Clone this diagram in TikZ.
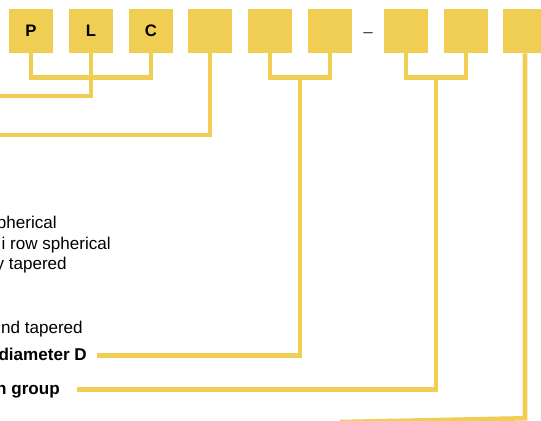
\documentclass[tikz,border=0pt]{standalone}
\usepackage{fontspec}
\setmainfont{Liberation Sans}
\usetikzlibrary{calc}
\definecolor{codeyellow}{HTML}{F0CD53}
\begin{document}
\begin{tikzpicture}[x=0.75pt,y=-0.75pt,
codebox/.style={rectangle,fill=codeyellow,minimum size=33pt,inner sep=0pt,font=\fontsize{12.5}{14}\selectfont\bfseries},
legend/.style={inner sep=0pt,text height=9pt,text depth=2.6pt,font=\fontsize{12.8}{15}\selectfont},
boldlegend/.style={legend,font=\fontsize{12.8}{15}\selectfont\bfseries},
wire/.style={draw=codeyellow,line width=3.4pt,line join=miter}]
\useasboundingbox (0,0) rectangle (541,420);
\clip (0,0) rectangle (541,420);
\draw (31,31) node[codebox] (b1) {P};
\draw (91,31) node[codebox] (b2) {L};
\draw (151,31) node[codebox] (b3) {C};
\draw (210,31) node[codebox] (b4) {};
\draw (270,31) node[codebox] (b5) {};
\draw (330,31) node[codebox] (b6) {};
\draw (368,37.6) node[legend,anchor=base,text height=,text depth=,text=black!80] (dash) {–};
\draw (406,31) node[codebox] (b7) {};
\draw (466,31) node[codebox] (b8) {};
\draw (525,31) node[codebox] (b9) {};
\draw (57,228) node[legend,anchor=base east] (sph) {pherical};
\draw (111,249) node[legend,anchor=base east] (msph) {i row spherical};
\draw (67,269) node[legend,anchor=base east] (tap) {y tapered};
\draw (83,333) node[legend,anchor=base east] (sphtap) {nd tapered};
\draw (87,360) node[boldlegend,anchor=base east] (dia) {diameter D};
\draw (60,394) node[boldlegend,anchor=base east] (grp) {n group};
\coordinate (endL) at (-5,96);
\coordinate (end4) at (-5,135);
\coordinate (end9) at (340,422);
\draw[wire] (b1.south) -- ++(0,24) -| (b3.south);
\draw[wire] (b2.south) |- (endL);
\draw[wire] (b4.south) |- (end4);
\draw[wire] (b5.south) -- ++(0,24) -| (b6.south);
\draw[wire,shorten >=7.5pt] ($(b5.south)!.5!(b6.south)$) ++(0,24) |- (dia.east);
\draw[wire] (b7.south) -- ++(0,24) -| (b8.south);
\draw[wire,shorten >=12.75pt] ($(b7.south)!.5!(b8.south)$) ++(0,24) |- (grp.east);
\draw[wire] (b9.south) -- ++(0,365) -- (end9);
\end{tikzpicture}
\end{document}
